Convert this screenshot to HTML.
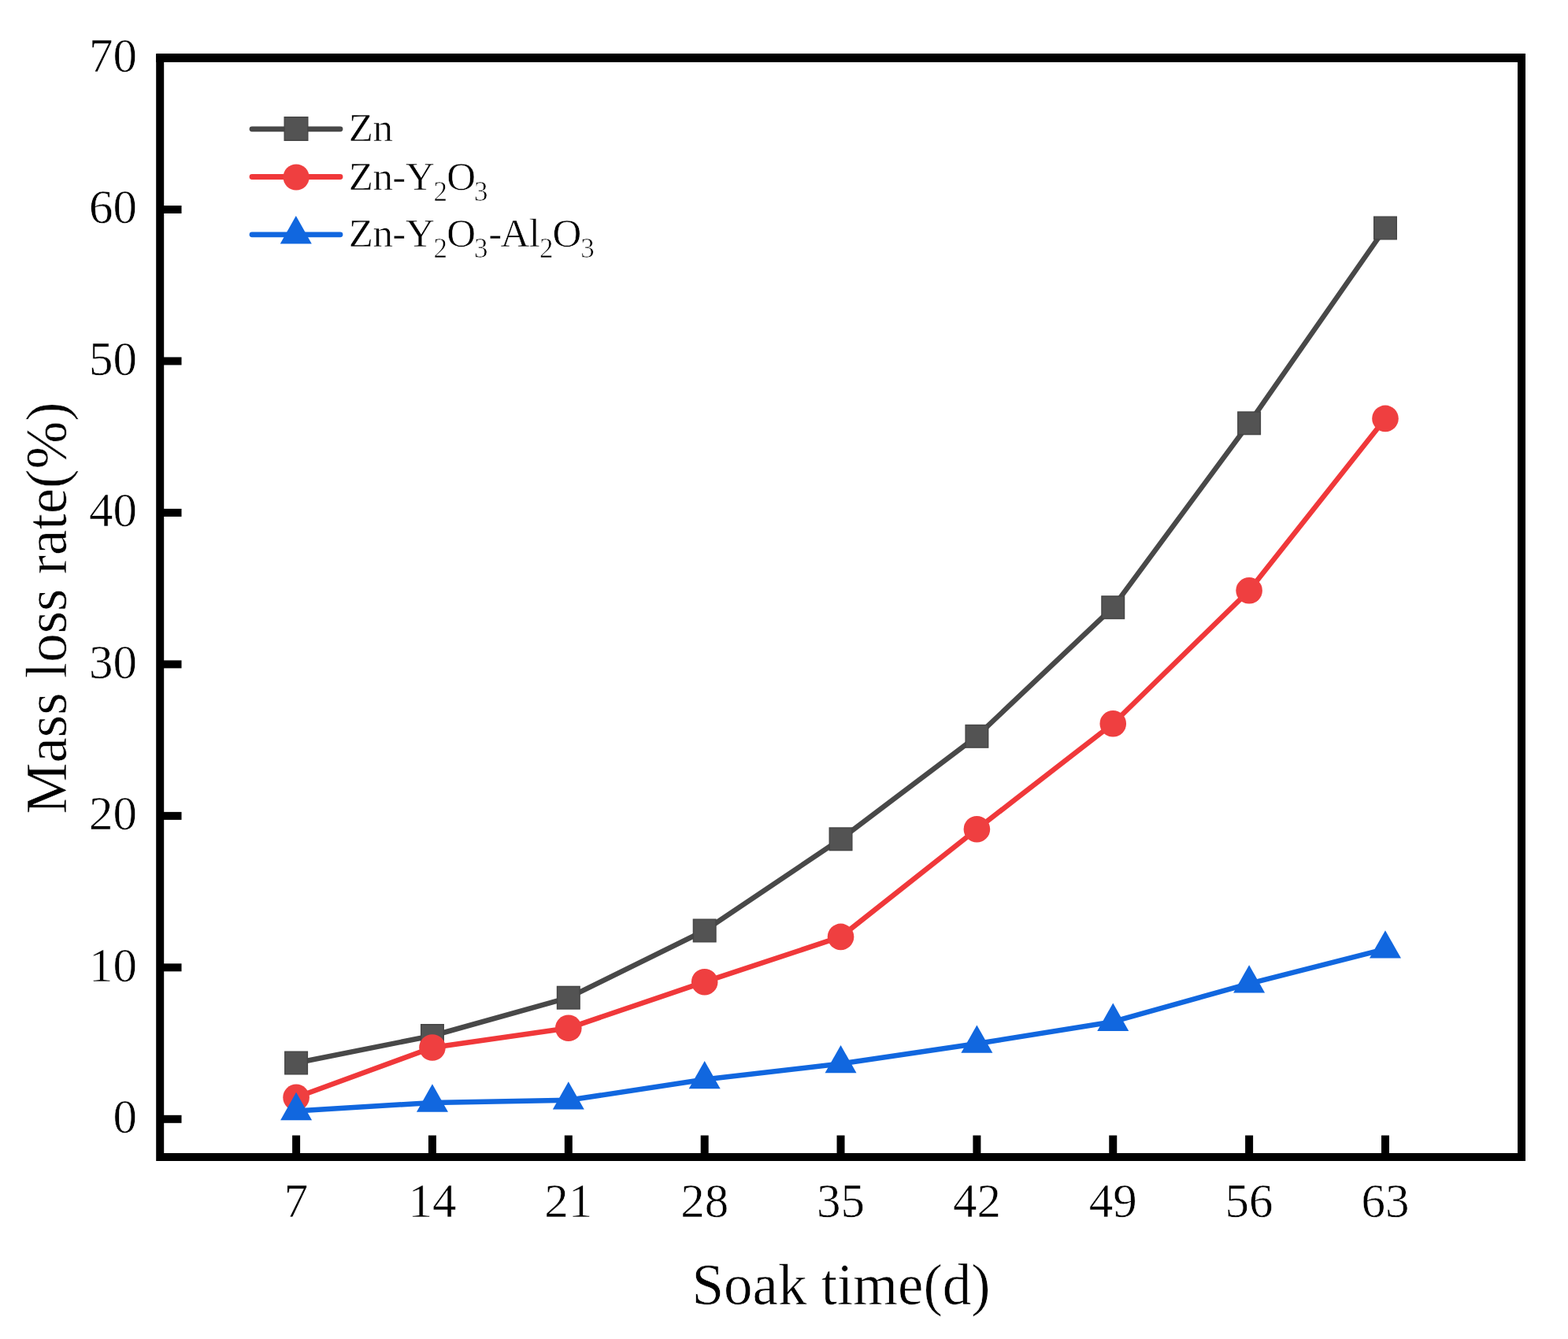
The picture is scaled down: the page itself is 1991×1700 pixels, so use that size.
<!DOCTYPE html>
<html><head><meta charset="utf-8"><title>Mass loss rate vs soak time</title>
<style>
html,body{margin:0;padding:0;background:#fff;}
svg{display:block;}
text{font-family:"Liberation Serif","Times New Roman",serif;fill:#000;stroke:#fff;stroke-width:0.6px;}
</style></head><body>
<svg width="1991" height="1700" viewBox="0 0 1991 1700">
<rect width="1991" height="1700" fill="#fff"/>
<g id="series">
<polyline points="376.1,1349.5 548.96,1315 721.82,1266.7 894.68,1181.5 1067.54,1065.3 1240.4,934.8 1413.26,771.2 1586.12,537.3 1758.98,289.5" fill="none" stroke="#484848" stroke-width="6.5" stroke-linejoin="round"/>
<rect x="361.8" y="1335.2" width="28.6" height="28.6" fill="#535353" stroke="#454545" stroke-width="1.4"/>
<rect x="534.66" y="1300.7" width="28.6" height="28.6" fill="#535353" stroke="#454545" stroke-width="1.4"/>
<rect x="707.52" y="1252.4" width="28.6" height="28.6" fill="#535353" stroke="#454545" stroke-width="1.4"/>
<rect x="880.38" y="1167.2" width="28.6" height="28.6" fill="#535353" stroke="#454545" stroke-width="1.4"/>
<rect x="1053.24" y="1051" width="28.6" height="28.6" fill="#535353" stroke="#454545" stroke-width="1.4"/>
<rect x="1226.1" y="920.5" width="28.6" height="28.6" fill="#535353" stroke="#454545" stroke-width="1.4"/>
<rect x="1398.96" y="756.9" width="28.6" height="28.6" fill="#535353" stroke="#454545" stroke-width="1.4"/>
<rect x="1571.82" y="523" width="28.6" height="28.6" fill="#535353" stroke="#454545" stroke-width="1.4"/>
<rect x="1744.68" y="275.2" width="28.6" height="28.6" fill="#535353" stroke="#454545" stroke-width="1.4"/>
<polyline points="376.1,1393.3 548.96,1330 721.82,1305.3 894.68,1246.7 1067.54,1189.4 1240.4,1052.7 1413.26,918.8 1586.12,749.8 1758.98,531.4" fill="none" stroke="#F0383A" stroke-width="6.5" stroke-linejoin="round"/>
<circle cx="376.1" cy="1393.3" r="16.8" fill="#EF3F40"/>
<circle cx="548.96" cy="1330" r="16.8" fill="#EF3F40"/>
<circle cx="721.82" cy="1305.3" r="16.8" fill="#EF3F40"/>
<circle cx="894.68" cy="1246.7" r="16.8" fill="#EF3F40"/>
<circle cx="1067.54" cy="1189.4" r="16.8" fill="#EF3F40"/>
<circle cx="1240.4" cy="1052.7" r="16.8" fill="#EF3F40"/>
<circle cx="1413.26" cy="918.8" r="16.8" fill="#EF3F40"/>
<circle cx="1586.12" cy="749.8" r="16.8" fill="#EF3F40"/>
<circle cx="1758.98" cy="531.4" r="16.8" fill="#EF3F40"/>
<polyline points="376.1,1410.4 548.96,1399.9 721.82,1396.8 894.68,1370.5 1067.54,1350.5 1240.4,1325 1413.26,1297.2 1586.12,1248.8 1758.98,1204.8" fill="none" stroke="#1167DF" stroke-width="6.5" stroke-linejoin="round"/>
<polygon points="376.1,1386.8 396.1,1422.2 356.1,1422.2" fill="#1167DF"/>
<polygon points="548.96,1376.3 568.96,1411.7 528.96,1411.7" fill="#1167DF"/>
<polygon points="721.82,1373.2 741.82,1408.6 701.82,1408.6" fill="#1167DF"/>
<polygon points="894.68,1346.9 914.68,1382.3 874.68,1382.3" fill="#1167DF"/>
<polygon points="1067.54,1326.9 1087.54,1362.3 1047.54,1362.3" fill="#1167DF"/>
<polygon points="1240.4,1301.4 1260.4,1336.8 1220.4,1336.8" fill="#1167DF"/>
<polygon points="1413.26,1273.6 1433.26,1309 1393.26,1309" fill="#1167DF"/>
<polygon points="1586.12,1225.2 1606.12,1260.6 1566.12,1260.6" fill="#1167DF"/>
<polygon points="1758.98,1181.2 1778.98,1216.6 1738.98,1216.6" fill="#1167DF"/>
</g>
<g id="frame" stroke="#000" stroke-width="10" fill="none">
<rect x="203.2" y="74" width="1728.8" height="1395"/>
<line x1="198.2" y1="73.5" x2="1937" y2="73.5" stroke-width="11"/>
<line x1="203.2" y1="1420.8" x2="230.5" y2="1420.8"/>
<line x1="203.2" y1="1228.33" x2="230.5" y2="1228.33"/>
<line x1="203.2" y1="1035.86" x2="230.5" y2="1035.86"/>
<line x1="203.2" y1="843.39" x2="230.5" y2="843.39"/>
<line x1="203.2" y1="650.92" x2="230.5" y2="650.92"/>
<line x1="203.2" y1="458.45" x2="230.5" y2="458.45"/>
<line x1="203.2" y1="265.98" x2="230.5" y2="265.98"/>
<line x1="203.2" y1="73.51" x2="230.5" y2="73.51"/>
<line x1="376.1" y1="1469" x2="376.1" y2="1441.5"/>
<line x1="548.96" y1="1469" x2="548.96" y2="1441.5"/>
<line x1="721.82" y1="1469" x2="721.82" y2="1441.5"/>
<line x1="894.68" y1="1469" x2="894.68" y2="1441.5"/>
<line x1="1067.54" y1="1469" x2="1067.54" y2="1441.5"/>
<line x1="1240.4" y1="1469" x2="1240.4" y2="1441.5"/>
<line x1="1413.26" y1="1469" x2="1413.26" y2="1441.5"/>
<line x1="1586.12" y1="1469" x2="1586.12" y2="1441.5"/>
<line x1="1758.98" y1="1469" x2="1758.98" y2="1441.5"/>
</g>
<g font-size="61" text-anchor="end">
<text x="174" y="1438">0</text>
<text x="174" y="1245.53">10</text>
<text x="174" y="1053.06">20</text>
<text x="174" y="860.59">30</text>
<text x="174" y="668.12">40</text>
<text x="174" y="475.65">50</text>
<text x="174" y="283.18">60</text>
<text x="174" y="90.71">70</text>
</g>
<g font-size="61" text-anchor="middle">
<text x="376.1" y="1544.5">7</text>
<text x="548.96" y="1544.5">14</text>
<text x="721.82" y="1544.5">21</text>
<text x="894.68" y="1544.5">28</text>
<text x="1067.54" y="1544.5">35</text>
<text x="1240.4" y="1544.5">42</text>
<text x="1413.26" y="1544.5">49</text>
<text x="1586.12" y="1544.5">56</text>
<text x="1758.98" y="1544.5">63</text>
</g>
<text x="1068" y="1656.4" font-size="73" text-anchor="middle">Soak time(d)</text>
<text transform="translate(83.5,772) rotate(-90)" font-size="73" text-anchor="middle">Mass loss rate(%)</text>
<g id="legend">
<line x1="320" y1="163.8" x2="432" y2="163.8" stroke="#484848" stroke-width="6.8" stroke-linecap="round"/>
<rect x="361.2" y="148.7" width="29.6" height="29.6" fill="#535353" stroke="#454545" stroke-width="1.4"/>
<line x1="320" y1="224.5" x2="432" y2="224.5" stroke="#F0383A" stroke-width="6.8" stroke-linecap="round"/>
<circle cx="376.1" cy="225" r="16.6" fill="#EF3F40"/>
<line x1="320" y1="297.8" x2="432" y2="297.8" stroke="#1167DF" stroke-width="6.8" stroke-linecap="round"/>
<polygon points="375.8,274 395.8,309.4 355.8,309.4" fill="#1167DF"/>
<text font-size="51"><tspan x="442.85" y="179.3">Z</tspan><tspan x="473.4" y="179.3">n</tspan></text>
<text font-size="51"><tspan x="442.85" y="241.4">Z</tspan><tspan x="473.4" y="241.4">n</tspan><tspan x="498.18" y="241.4">-</tspan><tspan x="515.0" y="241.4">Y</tspan><tspan x="550.4" y="255.4" font-size="35">2</tspan><tspan x="567.28" y="241.4">O</tspan><tspan x="601.9" y="255.4" font-size="35">3</tspan></text>
<text font-size="51"><tspan x="442.85" y="313.4">Z</tspan><tspan x="473.4" y="313.4">n</tspan><tspan x="498.18" y="313.4">-</tspan><tspan x="515.0" y="313.4">Y</tspan><tspan x="550.4" y="327.4" font-size="35">2</tspan><tspan x="567.28" y="313.4">O</tspan><tspan x="601.9" y="327.4" font-size="35">3</tspan><tspan x="620.13" y="313.4">-</tspan><tspan x="635.47" y="313.4">A</tspan><tspan x="671.77" y="313.4">l</tspan><tspan x="685.1" y="327.4" font-size="35">2</tspan><tspan x="701.58" y="313.4">O</tspan><tspan x="737.25" y="327.4" font-size="35">3</tspan></text></g>
</svg>
</body></html>
